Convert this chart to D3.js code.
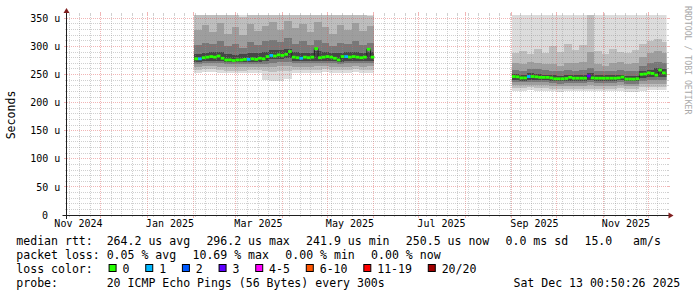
<!DOCTYPE html>
<html>
<head>
<meta charset="utf-8">
<script src="https://cdn.jsdelivr.net/npm/d3@7"></script>
<style>
  body { margin: 0; background: #fff; }
  svg { display: block; }
  svg text { font-family: "DejaVu Sans Mono", monospace; white-space: pre; fill: #000; }
</style>
</head>
<body>
<svg id="chart" width="697" height="297"></svg>
<script>
// Time window of the graph (400 days ending at the timestamp)
const tStart = Date.UTC(2024, 10, 8, 0, 50, 26);
const tEnd = Date.UTC(2025, 11, 13, 0, 50, 26);
const yMax = 356;

// Each consolidated value covers 2.5 days
const bucketDays = 2.5;
const seg1Start = Date.UTC(2025, 1, 1, 6);
const seg2Start = Date.UTC(2025, 8, 1, 0);

// Median rtt (microseconds) per bucket
const median1 = [
  278, 278, 280, 281, 282, 281, 283, 279, 276, 276,
  275, 276, 276, 277, 277, 278, 277, 279, 278, 282,
  284, 283, 285, 284, 286, 291, 281, 280, 279, 281,
  280, 281, 296.2, 280, 281, 282, 281, 279, 276, 282,
  282, 281, 282, 281, 280, 281, 295, 281
];
const loss1 = [
  0, 1, 0, 0, 0, 0, 0, 0, 0, 0,
  0, 0, 0, 0, 1, 0, 0, 0, 0, 0,
  1, 0, 0, 0, 0, 0, 0, 0, 1, 0,
  0, 0, 0, 0, 0, 0, 0, 0, 0, 0,
  1, 0, 0, 0, 0, 0, 0, 0
];
const median2 = [
  246.5, 246, 244, 244, 246.5, 246.5, 246, 245, 245, 245,
  244, 242.5, 242.5, 242.5, 243, 245, 243.5, 243.5, 243.5, 243.5,
  247.5, 244, 243.5, 243.5, 243.5, 243.5, 243.5, 243.5, 244, 245.5,
  242, 242, 241.9, 242.5, 250.5, 251, 253, 252, 249, 258,
  253, 250.5
];
const loss2 = [
  0, 0, 0, 0, 1, 0, 0, 0, 0, 0,
  0, 0, 0, 0, 0, 0, 0, 0, 0, 0,
  3, 0, 0, 0, 0, 0, 0, 0, 0, 0,
  0, 0, 0, 0, 0, 0, 0, 0, 0, 0,
  0, 0
];

// Smoke, one row per 5 days (two buckets):
// [A lo, B lo, C lo, D lo, E lo, E hi, D hi, C hi, B hi, A hi]
const smoke1 = [
  [253, 258, 264, 269, 273, 287, 302, 330, 362, 400],
  [254, 259, 265, 270, 274, 289, 306, 338, 365, 400],
  [254, 259, 265, 270, 275, 290, 304, 326, 358, 400],
  [253, 258, 264, 270, 274, 291, 310, 342, 370, 400],
  [252, 257, 263, 268, 272, 286, 300, 322, 356, 400],
  [252, 257, 263, 268, 272, 285, 305, 335, 366, 400],
  [252, 257, 263, 268, 272, 286, 298, 320, 352, 400],
  [253, 258, 263, 268, 272, 288, 308, 340, 368, 400],
  [253, 258, 264, 269, 273, 288, 303, 328, 360, 400],
  [241, 256, 263, 269, 274, 290, 309, 336, 366, 400],
  [238, 255, 264, 271, 277, 293, 312, 344, 372, 400],
  [239, 256, 265, 272, 278, 294, 308, 330, 362, 400],
  [242, 257, 266, 273, 279, 296, 315, 345, 372, 400],
  [252, 258, 264, 270, 274, 290, 305, 332, 362, 400],
  [253, 258, 264, 270, 274, 289, 310, 340, 368, 400],
  [253, 258, 264, 270, 274, 289, 302, 325, 358, 400],
  [253, 258, 265, 271, 275, 292, 312, 344, 370, 400],
  [254, 259, 265, 271, 275, 290, 306, 334, 364, 400],
  [253, 258, 264, 270, 274, 289, 300, 322, 356, 400],
  [253, 258, 264, 269, 273, 288, 307, 338, 366, 400],
  [253, 258, 264, 270, 275, 290, 304, 330, 360, 400],
  [254, 259, 265, 271, 275, 290, 310, 342, 370, 400],
  [253, 258, 264, 270, 274, 289, 303, 328, 362, 400],
  [253, 258, 265, 271, 275, 291, 306, 336, 355, 400]
];
const smoke2 = [
  [221, 226, 231, 236, 240, 251, 258, 270, 288, 400],
  [221, 226, 231, 236, 239, 250, 257, 268, 292, 400],
  [222, 227, 232, 237, 241, 252, 260, 272, 286, 400],
  [221, 226, 232, 237, 240, 251, 259, 270, 296, 400],
  [221, 226, 231, 236, 240, 250, 258, 268, 288, 400],
  [220, 225, 230, 235, 239, 249, 257, 269, 300, 400],
  [219, 224, 229, 234, 238, 248, 256, 266, 290, 400],
  [220, 225, 230, 235, 239, 249, 258, 271, 305, 400],
  [220, 225, 230, 235, 239, 249, 257, 270, 294, 400],
  [220, 225, 230, 235, 239, 249, 258, 272, 302, 400],
  [220, 225, 231, 236, 240, 252, 262, 290, 400, 400],
  [220, 225, 230, 235, 239, 249, 257, 268, 292, 400],
  [220, 225, 230, 235, 239, 249, 256, 266, 287, 400],
  [220, 225, 230, 235, 239, 249, 257, 270, 296, 400],
  [221, 226, 231, 236, 240, 250, 258, 272, 290, 400],
  [219, 224, 229, 234, 238, 248, 256, 268, 288, 400],
  [219, 224, 229, 234, 238, 248, 257, 270, 294, 400],
  [221, 227, 233, 239, 244, 256, 266, 282, 304, 400],
  [222, 228, 234, 240, 245, 258, 270, 288, 310, 400],
  [222, 228, 234, 241, 246, 262, 272, 292, 314, 400],
  [222, 228, 234, 240, 245, 260, 270, 288, 308, 400]
];

// Axis ticks and labels
const yTickValues = [0, 50, 100, 150, 200, 250, 300, 350];
const yTickLabels = ["0", "50 u", "100 u", "150 u", "200 u", "250 u", "300 u", "350 u"];
const xLabelMonths = [
  Date.UTC(2024, 10, 1), Date.UTC(2025, 0, 1), Date.UTC(2025, 2, 1), Date.UTC(2025, 4, 1),
  Date.UTC(2025, 6, 1), Date.UTC(2025, 8, 1), Date.UTC(2025, 10, 1)
];
const xLabelTexts = ["Nov 2024", "Jan 2025", "Mar 2025", "May 2025", "Jul 2025", "Sep 2025", "Nov 2025"];

// Legend
const legendRow1 = ["median rtt:  264.2 us avg", "296.2 us max", "241.9 us min", "250.5 us now", "0.0 ms sd", "15.0   am/s"];
const legendRow2 = ["packet loss: 0.05 % avg", "10.69 % max", "0.00 % min", "0.00 % now"];
const lossLabels = ["0", "1", "2", "3", "4-5", "6-10", "11-19", "20/20"];
const lossColors = ["#26ff00", "#00b8ff", "#0059ff", "#5e00ff", "#ff00ff", "#ff5500", "#ff0000", "#a00000"];
const lossUpper = [0, 1, 2, 3, 5, 10, 19, 20];
const probeText = "probe:       20 ICMP Echo Pings (56 Bytes) every 300s";
const stampText = "Sat Dec 13 00:50:26 2025";

const bandColors = ["#dcdcdc", "#bebebe", "#9e9e9e", "#787878", "#464646"];

const DAY = 864e5;
const svg = d3.select("#chart");
const x = d3.scaleUtc().domain([tStart, tEnd]).range([66.5, 666.5]);
const y = d3.scaleLinear().domain([0, yMax]).range([215, 15]);
const px = v => Math.round(v - 0.5) + 0.5;

svg.append("clipPath").attr("id", "plot")
  .append("rect").attr("x", 66.5).attr("y", 15).attr("width", 600).attr("height", 200);

// smoke
const smokeG = svg.append("g").attr("clip-path", "url(#plot)").attr("shape-rendering", "crispEdges");
function drawSmoke(start, rows) {
  const span = bucketDays * 2 * DAY;
  const pts = rows.map((r, i) => ({ t: start + i * span, r: r }));
  pts.push({ t: start + rows.length * span, r: rows[rows.length - 1] });
  bandColors.forEach(function(c, k) {
    const area = d3.area().curve(d3.curveStepAfter)
      .x(d => x(d.t))
      .y0(d => y(d.r[k]))
      .y1(d => y(d.r[9 - k]));
    smokeG.append("path").datum(pts).attr("d", area).attr("fill", c);
  });
}
drawSmoke(seg1Start, smoke1);
drawSmoke(seg2Start, smoke2);

// grid (drawn over the smoke)
const grid = svg.append("g").attr("shape-rendering", "crispEdges");
const minorCol = "rgba(143,143,143,0.42)";
const majorCol = "rgba(222,79,79,0.42)";
const months = d3.utcMonth.range(tStart, tEnd);
const weeks = d3.utcSunday.range(tStart, tEnd).filter(d => d.getUTCDate() !== 1);

function vLine(t, col, tick) {
  const xx = px(x(t));
  grid.append("line").attr("x1", xx).attr("x2", xx).attr("y1", 15).attr("y2", 215)
    .attr("stroke", col).attr("stroke-dasharray", "1,1");
  grid.append("line").attr("x1", xx).attr("x2", xx).attr("y1", 15 - tick).attr("y2", 15).attr("stroke", col);
  grid.append("line").attr("x1", xx).attr("x2", xx).attr("y1", 215).attr("y2", 215 + tick).attr("stroke", col);
}
function hLine(v, col, tick) {
  const yy = px(y(v));
  grid.append("line").attr("x1", 66.5).attr("x2", 666.5).attr("y1", yy).attr("y2", yy)
    .attr("stroke", col).attr("stroke-dasharray", "1,1");
  grid.append("line").attr("x1", 66.5 - tick).attr("x2", 66.5).attr("y1", yy).attr("y2", yy).attr("stroke", col);
  grid.append("line").attr("x1", 666.5).attr("x2", 666.5 + tick).attr("y1", yy).attr("y2", yy).attr("stroke", col);
}
weeks.forEach(t => vLine(t, minorCol, 2));
months.forEach(t => vLine(t, majorCol, 3));
d3.range(10, yMax, 10).filter(v => v % 50 !== 0).forEach(v => hLine(v, minorCol, 2));
yTickValues.filter(v => v > 0).forEach(v => hLine(v, majorCol, 3));

// median line: dark step line plus a loss coloured band per bucket
const medG = svg.append("g").attr("clip-path", "url(#plot)");
function lossColor(l) {
  return lossColors[lossUpper.findIndex(u => l <= u)];
}
function drawMedian(start, meds, losses) {
  const span = bucketDays * DAY;
  const pts = meds.map((m, i) => ({ t: start + i * span, m: m, l: losses[i] }));
  const line = d3.line().curve(d3.curveStepAfter).x(d => x(d.t)).y(d => y(d.m));
  medG.append("path")
    .datum(pts.concat([{ t: start + meds.length * span, m: meds[meds.length - 1] }]))
    .attr("d", line).attr("fill", "none").attr("stroke", "#202020").attr("stroke-width", 1);
  medG.selectAll(null).data(pts).join("rect")
    .attr("x", d => x(d.t))
    .attr("width", x(start + span) - x(start))
    .attr("y", d => y(d.m) - 1.4)
    .attr("height", 2.8)
    .attr("fill", d => lossColor(d.l));
}
drawMedian(seg1Start, median1, loss1);
drawMedian(seg2Start, median2, loss2);

// axes
const axisCol = "#1f1f1f", arrowCol = "#801f1f";
svg.append("line").attr("x1", 62.5).attr("x2", 670.5).attr("y1", 215.5).attr("y2", 215.5).attr("stroke", axisCol);
svg.append("line").attr("x1", 66.5).attr("x2", 66.5).attr("y1", 219).attr("y2", 11).attr("stroke", axisCol);
svg.append("path").attr("d", "M668.5,212.5L668.5,218.5L673.5,215.5Z").attr("fill", arrowCol);
svg.append("path").attr("d", "M63.5,13L69.5,13L66.5,8Z").attr("fill", arrowCol);

// y labels
svg.append("g").selectAll("text").data(yTickValues).join("text")
  .attr("x", d => d === 0 ? 48 : 60.3)
  .attr("y", d => y(d) + 3.6)
  .attr("text-anchor", "end")
  .style("font-size", "10px")
  .text((d, i) => yTickLabels[i]);

// x labels, centred half a month after the month start
svg.append("g").selectAll("text").data(xLabelMonths).join("text")
  .attr("x", d => x(d + 15 * DAY))
  .attr("y", 226.5)
  .attr("text-anchor", "middle")
  .style("font-size", "10px")
  .text((d, i) => xLabelTexts[i]);

// vertical unit label
svg.append("text").attr("transform", "translate(15,115) rotate(-90)")
  .attr("text-anchor", "middle").style("font-size", "11.55px").text("Seconds");

// watermark
svg.append("text").attr("transform", "translate(685,6) rotate(90)")
  .style("font-size", "8.2px").style("fill", "#a8a8a8").text("RRDTOOL / TOBI OETIKER");

// legend
const leg = svg.append("g").style("font-size", "11.55px");
const legendLeft = 16.3, legendGap = 16.3, boxGap = 15.8;
function legendRow(items, yBase) {
  let cx = legendLeft;
  items.forEach(function(s) {
    const t = leg.append("text").attr("x", cx).attr("y", yBase).text(s);
    cx += t.node().getComputedTextLength() + legendGap;
  });
}
legendRow(legendRow1, 245);
legendRow(legendRow2, 259);

let lx = legendLeft;
const lt = leg.append("text").attr("x", lx).attr("y", 273).text("loss color:");
lx += lt.node().getComputedTextLength() + boxGap;
lossLabels.forEach(function(lab, i) {
  leg.append("rect").attr("x", lx + 0.5).attr("y", 264.5).attr("width", 7).attr("height", 7)
    .attr("fill", lossColors[i]).attr("stroke", "#000").attr("stroke-width", 1);
  const t = leg.append("text").attr("x", lx).attr("y", 273).text("  " + lab);
  lx += t.node().getComputedTextLength() + boxGap;
});

leg.append("text").attr("x", legendLeft).attr("y", 287).text(probeText);
leg.append("text").attr("x", 680.3).attr("y", 287).attr("text-anchor", "end").text(stampText);
</script>
</body>
</html>
